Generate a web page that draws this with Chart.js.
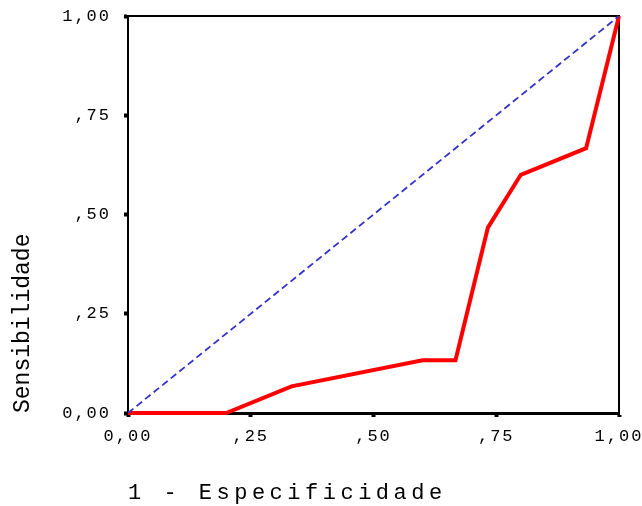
<!DOCTYPE html>
<html>
<head>
<meta charset="utf-8">
<script src="https://cdn.jsdelivr.net/npm/chart.js@4"></script>
<style>
  html, body { margin: 0; padding: 0; background: #fff; }
  canvas { display: block; }
</style>
</head>
<body>
<canvas id="roc" width="642" height="506"></canvas>
<script>
// curve points (1 - especificidade, sensibilidade)
const rocX = [0, 0.200, 0.333, 0.600, 0.667, 0.733, 0.800, 0.933, 1.000];
const rocY = [0, 0, 0.067, 0.133, 0.133, 0.467, 0.600, 0.667, 1.000];
// reference diagonal
const diagX = [0, 1];
const diagY = [0, 1];
// tick labels
const xTickLabels = ['0,00', ',25', ',50', ',75', '1,00'];
const yTickLabels = ['0,00', ',25', ',50', ',75', '1,00'];

const FONT = "'Liberation Mono', 'DejaVu Sans Mono', monospace";

// letter spacing per scale part (canvas letterSpacing)
const spacing = {
    x: { labels: '2px', title: '4.5px' },
    y: { labels: '2px', title: '0px' }
};

const spacingPlugin = {
    id: 'spacing',
    beforeDraw(chart) {
        for (const id of ['x', 'y']) {
            const s = chart.scales[id];
            if (!s || s._spaced) continue;
            const dt = s.drawTitle, dl = s.drawLabels;
            s.drawTitle = function () {
                const c = this.ctx, prev = c.letterSpacing;
                c.letterSpacing = spacing[id].title;
                dt.apply(this, arguments);
                c.letterSpacing = prev;
            };
            s.drawLabels = function () {
                const c = this.ctx, prev = c.letterSpacing;
                c.letterSpacing = spacing[id].labels;
                dl.apply(this, arguments);
                c.letterSpacing = prev;
            };
            s._spaced = true;
        }
    }
};

// black frame round the plot area
const framePlugin = {
    id: 'frame',
    beforeDatasetsDraw(chart) {
        const { ctx, chartArea: a } = chart;
        ctx.save();
        ctx.strokeStyle = '#000';
        ctx.lineWidth = 2;
        ctx.strokeRect(a.left, a.top, a.right - a.left, a.bottom - a.top);
        ctx.restore();
    }
};

new Chart(document.getElementById('roc'), {
    type: 'scatter',
    data: {
        datasets: [
            {
                data: diagX.map((x, i) => ({ x, y: diagY[i] })),
                showLine: true,
                borderColor: '#3333cc',
                borderWidth: 1.8,
                borderDash: [7, 4],
                pointRadius: 0,
                fill: false
            },
            {
                data: rocX.map((x, i) => ({ x, y: rocY[i] })),
                showLine: true,
                borderColor: '#ff0000',
                borderWidth: 4,
                pointRadius: 0,
                fill: false,
                clip: 4
            }
        ]
    },
    options: {
        responsive: false,
        animation: false,
        layout: { padding: { top: 16, right: 23, left: 0, bottom: 0 } },
        plugins: {
            legend: { display: false },
            tooltip: { enabled: false }
        },
        scales: {
            x: {
                type: 'linear',
                min: 0,
                max: 1,
                ticks: {
                    stepSize: 0.25,
                    color: '#000',
                    padding: 9,
                    maxRotation: 0,
                    font: { family: FONT, size: 17 },
                    callback: (v, i) => xTickLabels[i]
                },
                grid: {
                    drawOnChartArea: false,
                    drawTicks: true,
                    tickLength: 4,
                    tickWidth: 4,
                    tickColor: '#000'
                },
                border: { display: true, color: '#000', width: 3 },
                title: {
                    display: true,
                    text: '1 - Especificidade',
                    align: 'start',
                    color: '#000',
                    font: { family: FONT, size: 22 },
                    padding: { top: 0, bottom: 0 }
                },
                afterFit(scale) {
                    scale.height = 93;
                    scale.paddingLeft = 0;
                    scale.paddingRight = 0;
                }
            },
            y: {
                type: 'linear',
                min: 0,
                max: 1,
                ticks: {
                    stepSize: 0.25,
                    color: '#000',
                    padding: 13,
                    font: { family: FONT, size: 17 },
                    callback: (v, i) => yTickLabels[i]
                },
                grid: {
                    drawOnChartArea: false,
                    drawTicks: true,
                    tickLength: 4,
                    tickWidth: 4,
                    tickColor: '#000'
                },
                border: { display: true, color: '#000', width: 2 },
                title: {
                    display: true,
                    text: 'Sensibilidade',
                    align: 'start',
                    color: '#000',
                    font: { family: FONT, size: 23 },
                    padding: { top: 9, bottom: 0 }
                },
                afterFit(scale) {
                    scale.width = 128;
                    scale.paddingTop = 0;
                    scale.paddingBottom = 0;
                }
            }
        }
    },
    plugins: [spacingPlugin, framePlugin]
});
</script>
</body>
</html>
